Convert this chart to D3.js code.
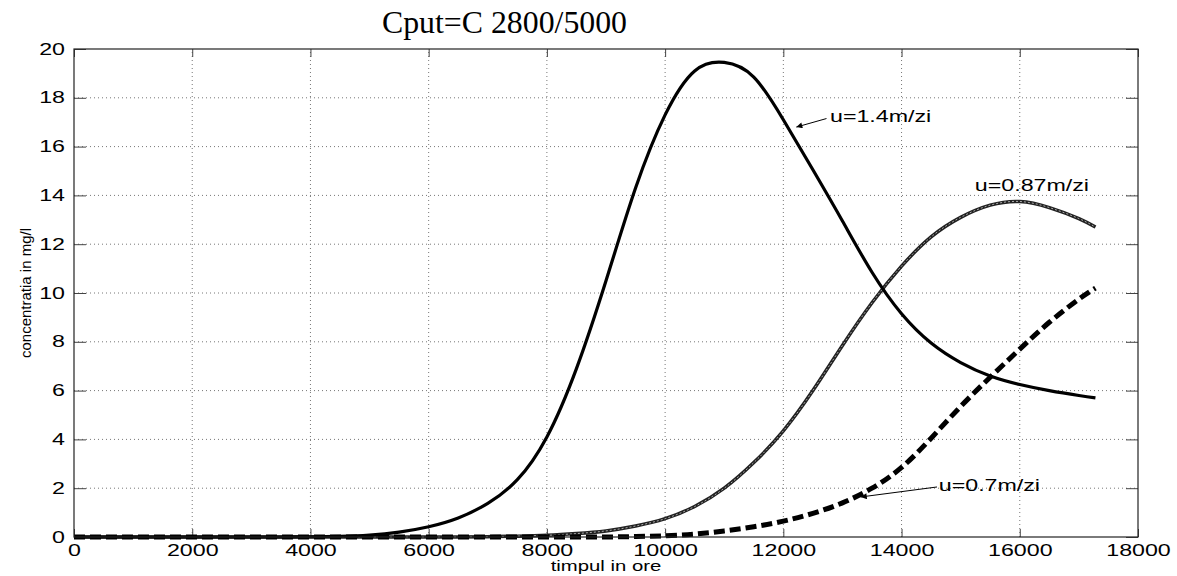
<!DOCTYPE html>
<html>
<head>
<meta charset="utf-8">
<script src="https://cdn.jsdelivr.net/npm/d3@7"></script>
<style>
  body { margin: 0; background: #fff; }
  text { font-family: "Liberation Sans", Arial, sans-serif; }
</style>
</head>
<body>
<script>
var times = [0, 500, 1000, 1500, 2000, 2500, 3000, 3500, 4000, 4500, 5000, 5500, 6000, 6500, 7000, 7500, 8000, 8500,
  9000, 9500, 10000, 10500, 11000, 11500, 12000, 12500, 13000, 13500, 14000, 14500, 15000, 15500, 16000, 16500, 17000, 17280]

var conc14 = [0, 0, 0, 0, 0, 0, 0, 0, 0.01, 0.03, 0.08, 0.2, 0.42, 0.78, 1.38, 2.35, 4.1, 6.9,
  10.5, 14.3, 17.3, 19.1, 19.45, 18.85, 17.1, 15.05, 12.95, 10.85, 9.15, 7.95, 7.15, 6.6, 6.25, 6.0, 5.8, 5.7]

var conc087 = [0, 0, 0, 0, 0, 0, 0, 0, 0, 0, 0, 0, 0, 0.005, 0.015, 0.035, 0.07, 0.14,
  0.25, 0.45, 0.75, 1.25, 2.0, 3.05, 4.35, 6.0, 7.85, 9.6, 11.1, 12.3, 13.1, 13.6, 13.75, 13.5, 13.05, 12.7]

var conc07 = [0, 0, 0, 0, 0, 0, 0, 0, 0, 0, 0, 0, 0, 0, 0, 0, 0, 0,
  0, 0.02, 0.05, 0.12, 0.25, 0.42, 0.65, 0.97, 1.4, 2.0, 2.85, 4.05, 5.35, 6.55, 7.7, 8.8, 9.75, 10.2]

var xTicks = [0, 2000, 4000, 6000, 8000, 10000, 12000, 14000, 16000, 18000]
var yTicks = [0, 2, 4, 6, 8, 10, 12, 14, 16, 18, 20]

// annotation positions in data units
var labels = [
  { text: "u=1.4m/zi", x: 12790, y: 17.0, from: [12730, 17.15], to: [12220, 16.8] },
  { text: "u=0.87m/zi", x: 15240, y: 14.2 },
  { text: "u=0.7m/zi", x: 14630, y: 1.9, from: [14600, 2.05], to: [13310, 1.64] }
]

var width = 1177,
    height = 576,
    stretch = 1.45

var svg = d3.select("body")
  .append("svg")
  .attr("width", width)
  .attr("height", height)

var x = d3.scaleLinear().domain([0, 18000]).range([74, 1138])
var y = d3.scaleLinear().domain([0, 20]).range([537, 49])

function widen(sel) {
  sel.each(function() {
    var w = this.getComputedTextLength()
    d3.select(this)
      .attr("textLength", w * stretch)
      .attr("lengthAdjust", "spacingAndGlyphs")
  })
}

// grid
svg.append("g")
  .selectAll("line")
  .data(xTicks.slice(1, -1))
  .enter().append("line")
  .attr("x1", function(d) { return x(d) })
  .attr("x2", function(d) { return x(d) })
  .attr("y1", y(0))
  .attr("y2", y(20))
  .attr("stroke", "#777")
  .attr("stroke-dasharray", "1,3")

svg.append("g")
  .selectAll("line")
  .data(yTicks.slice(1, -1))
  .enter().append("line")
  .attr("x1", x(0))
  .attr("x2", x(18000))
  .attr("y1", function(d) { return y(d) })
  .attr("y2", function(d) { return y(d) })
  .attr("stroke", "#777")
  .attr("stroke-dasharray", "1,3")

// axes
var axisB = svg.append("g")
  .attr("transform", "translate(0," + y(0) + ")")
  .call(d3.axisBottom(x).tickValues(xTicks).tickFormat(d3.format("d")).tickSizeInner(-8).tickSizeOuter(0).tickPadding(8))
var axisT = svg.append("g")
  .attr("transform", "translate(0," + y(20) + ")")
  .call(d3.axisTop(x).tickValues(xTicks).tickSizeInner(-8).tickSizeOuter(0).tickFormat(""))
var axisL = svg.append("g")
  .attr("transform", "translate(" + x(0) + ",0)")
  .call(d3.axisLeft(y).tickValues(yTicks).tickSizeInner(-12).tickSizeOuter(0).tickPadding(9))
var axisR = svg.append("g")
  .attr("transform", "translate(" + x(18000) + ",0)")
  .call(d3.axisRight(y).tickValues(yTicks).tickSizeInner(-12).tickSizeOuter(0).tickFormat(""))

;[axisB, axisT, axisL, axisR].forEach(function(g) {
  g.select(".domain").remove()
  g.selectAll(".tick line").attr("stroke", "#444")
})

axisB.selectAll("text").attr("font-size", 16).attr("fill", "#000").call(widen)
axisL.selectAll("text").attr("font-size", 16).attr("fill", "#000").call(widen)

// curves
var line = d3.line()
  .x(function(d) { return x(d[0]) })
  .y(function(d) { return y(d[1]) })
  .curve(d3.curveNatural)

function pairs(vals) {
  return times.map(function(t, i) { return [t, vals[i]] })
}

svg.append("path")
  .attr("d", line(pairs(conc087)))
  .attr("fill", "none")
  .attr("stroke", "#222")
  .attr("stroke-width", 3.5)

svg.append("path")
  .attr("d", line(pairs(conc087)))
  .attr("fill", "none")
  .attr("stroke", "#aaa")
  .attr("stroke-width", 1)
  .attr("stroke-dasharray", "2,2")

svg.append("path")
  .attr("d", line(pairs(conc07)))
  .attr("fill", "none")
  .attr("stroke", "#000")
  .attr("stroke-width", 5)
  .attr("stroke-dasharray", "11,5")

svg.append("path")
  .attr("d", line(pairs(conc14)))
  .attr("fill", "none")
  .attr("stroke", "#000")
  .attr("stroke-width", 3.2)

// frame
svg.append("rect")
  .attr("x", x(0))
  .attr("y", y(20))
  .attr("width", x(18000) - x(0))
  .attr("height", y(0) - y(20))
  .attr("fill", "none")
  .attr("stroke", "#222")
  .attr("stroke-width", 1.2)

// annotations
svg.append("defs").append("marker")
  .attr("id", "head")
  .attr("viewBox", "0 0 10 10")
  .attr("refX", 10)
  .attr("refY", 5)
  .attr("markerWidth", 12)
  .attr("markerHeight", 6)
  .attr("markerUnits", "userSpaceOnUse")
  .attr("orient", "auto")
  .append("path")
  .attr("d", "M0,0L10,5L0,10z")
  .attr("fill", "#000")

labels.filter(function(d) { return d.from }).forEach(function(d) {
  svg.append("line")
    .attr("x1", x(d.from[0]))
    .attr("y1", y(d.from[1]))
    .attr("x2", x(d.to[0]))
    .attr("y2", y(d.to[1]))
    .attr("stroke", "#000")
    .attr("stroke-width", 1)
    .attr("marker-end", "url(#head)")
})

svg.append("g")
  .selectAll("text")
  .data(labels)
  .enter().append("text")
  .attr("x", function(d) { return x(d.x) })
  .attr("y", function(d) { return y(d.y) })
  .attr("font-size", 16)
  .text(function(d) { return d.text })
  .call(widen)

// titles
svg.append("text")
  .attr("x", 382)
  .attr("y", 33)
  .style("font-family", "'Liberation Serif', 'Times New Roman', serif")
  .attr("font-size", 31)
  .attr("textLength", 245)
  .attr("lengthAdjust", "spacingAndGlyphs")
  .text("Cput=C 2800/5000")

svg.append("text")
  .attr("x", (x(0) + x(18000)) / 2)
  .attr("y", 571)
  .attr("text-anchor", "middle")
  .attr("font-size", 14)
  .text("timpul in ore")
  .call(widen)

svg.append("text")
  .attr("transform", "translate(31," + y(10) + ") rotate(-90)")
  .attr("text-anchor", "middle")
  .attr("font-size", 15)
  .text("concentratia in mg/l")
</script>
</body>
</html>
